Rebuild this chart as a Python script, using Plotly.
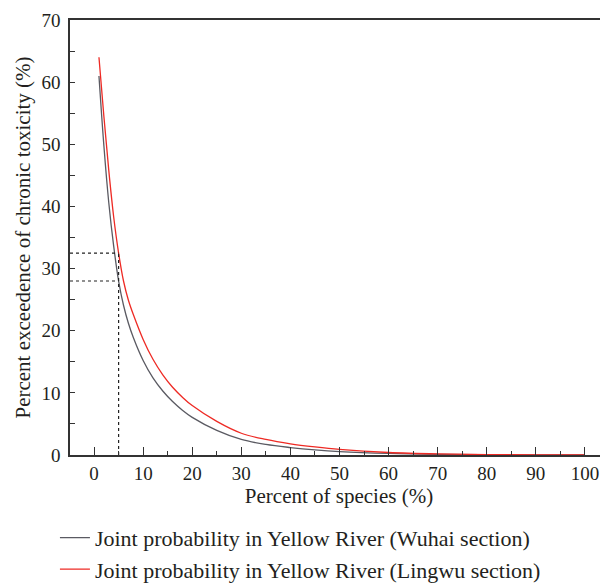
import plotly.graph_objects as go

# Percent of species (%)
species_pct = [1, 2, 3, 4, 5, 6, 7, 8, 10, 12, 14, 16, 18, 20, 25, 30, 35, 40, 45, 50, 60, 70, 80, 90, 100]
# Joint probability, Wuhai section (gray)
wuhai = [61.0, 49.8, 40.6, 33.6, 28.0, 24.1, 21.2, 18.9, 15.2, 12.4, 10.3, 8.6, 7.2, 6.05, 3.95, 2.5, 1.7, 1.2, 0.82, 0.55, 0.25, 0.11, 0.05, 0.02, 0.01]
# Joint probability, Lingwu section (red)
lingwu = [64.0, 54.5, 45.8, 38.3, 32.5, 28.0, 24.9, 22.6, 18.6, 15.4, 12.9, 10.9, 9.3, 7.95, 5.4, 3.5, 2.5, 1.8, 1.3, 0.9, 0.4, 0.17, 0.07, 0.03, 0.01]

series_names = ["Joint probability in Yellow River (Wuhai section)",
                "Joint probability in Yellow River (Lingwu section)"]

# Reference values at 5% of species
ref_x = 5
ref_wuhai = 28.0
ref_lingwu = 32.5

x_range = [-4.9, 104.7]
y_range = [0, 70]

FONT = "Liberation Serif"
TXT = "#231f20"

fig = go.Figure()
fig.add_trace(go.Scatter(x=species_pct, y=wuhai, mode="lines", name=series_names[0],
                         line=dict(color="#5a5a62", width=1.3, shape="spline", smoothing=1.0)))
fig.add_trace(go.Scatter(x=species_pct, y=lingwu, mode="lines", name=series_names[1],
                         line=dict(color="#ee2a24", width=1.3, shape="spline", smoothing=1.0)))

dot = dict(color="#222222", width=1.2, dash="dot")
fig.add_trace(go.Scatter(x=[x_range[0], ref_x], y=[ref_lingwu, ref_lingwu], mode="lines",
                         line=dot, showlegend=False, hoverinfo="skip"))
fig.add_trace(go.Scatter(x=[x_range[0], ref_x], y=[ref_wuhai, ref_wuhai], mode="lines",
                         line=dot, showlegend=False, hoverinfo="skip"))
fig.add_trace(go.Scatter(x=[ref_x, ref_x], y=[0, ref_lingwu], mode="lines",
                         line=dot, showlegend=False, hoverinfo="skip"))

axis_common = dict(showgrid=False, zeroline=False, showline=True, linecolor="#333333",
                   linewidth=1.5, ticks="inside", tickcolor="#333333", automargin=False,
                   tickfont=dict(family=FONT, size=19, color=TXT))

fig.update_xaxes(range=x_range, tickmode="linear", tick0=0, dtick=10, ticklen=8, tickwidth=1.2,
                 mirror=True,
                 minor=dict(ticks="inside", dtick=5, tick0=0, ticklen=4, tickcolor="#333333", tickwidth=1.2),
                 title=dict(text="Percent of species (%)", font=dict(family=FONT, size=21, color=TXT),
                            standoff=3),
                 **axis_common)
fig.update_yaxes(range=y_range, tickmode="linear", tick0=0, dtick=10, ticklen=5, tickwidth=1.2,
                 ticklabelstandoff=4,
                 minor=dict(ticks="inside", dtick=5, tick0=0, ticklen=5, tickcolor="#333333", tickwidth=1.2),
                 title=dict(text="Percent exceedence of chronic toxicity (%)",
                            font=dict(family=FONT, size=21, color=TXT), standoff=5),
                 **axis_common)

# The page body adds an 8px offset, so the figure is 600x576 placed at (8, 8)
fig.update_layout(
    width=600, height=576,
    margin=dict(l=62, r=0, t=12, b=129, autoexpand=False),
    plot_bgcolor="white", paper_bgcolor="white",
    font=dict(family=FONT, size=19, color=TXT),
    legend=dict(orientation="v", x=-0.028, xanchor="left", y=-0.142, yanchor="top",
                font=dict(family=FONT, size=22, color=TXT), bgcolor="rgba(0,0,0,0)",
                tracegroupgap=0, itemwidth=30),
)

fig.write_html("out.html")
